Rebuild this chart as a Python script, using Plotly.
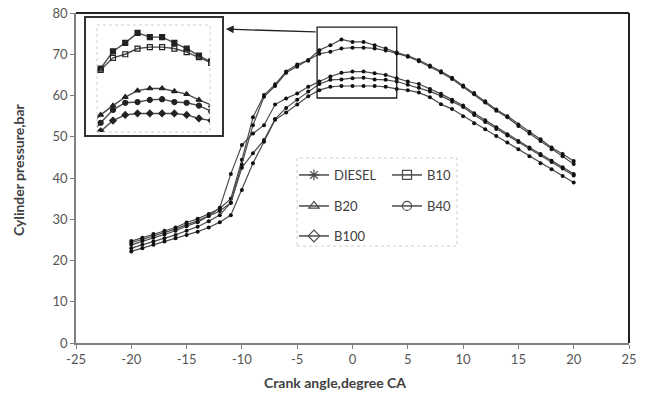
import plotly.graph_objects as go

crank_angle = list(range(-20, 21))
series_names = ["DIESEL", "B10", "B20", "B40", "B100"]
diesel = [24.7, 25.5, 26.4, 27.2, 28.0, 29.2, 30.1, 31.3, 32.6,
          35.0, 44.4, 54.7, 60.1, 62.7, 65.8, 67.5, 68.6, 71.0, 72.2, 73.6,
          73.0, 73.0, 72.2, 71.4, 70.4, 69.6, 68.6, 67.3, 65.9, 64.3, 62.4, 60.6, 58.6, 56.6,
          55.0, 53.0, 51.2, 49.4, 47.4, 45.8, 44.1]
b10 = [24.3, 25.1, 26.0, 26.8, 27.6, 28.7, 29.6, 30.8, 32.0,
       34.0, 43.2, 52.8, 59.7, 62.3, 65.5, 67.0, 68.4, 70.1, 70.6, 71.4,
       71.6, 71.6, 71.4, 70.9, 70.2, 69.4, 68.3, 67.0, 65.6, 64.0, 62.1, 60.3, 58.3, 56.3,
       54.7, 52.6, 50.8, 49.0, 47.0, 45.3, 43.4]
b20 = [23.8, 24.7, 25.5, 26.3, 27.2, 28.3, 29.3, 30.8, 32.8,
       41.0, 48.0, 50.8, 52.8, 57.8, 59.3, 60.5, 62.1, 63.4, 64.6, 65.5,
       65.8, 65.8, 65.4, 65.0, 64.2, 63.4, 62.8, 61.6, 60.4, 59.0, 57.6, 55.7, 54.0, 52.3,
       50.6, 49.0, 47.4, 45.8, 44.2, 42.6, 41.0]
b40 = [23.0, 23.8, 24.6, 25.4, 26.2, 27.2, 28.2, 29.5, 31.0,
       34.0, 42.5, 46.0, 49.2, 54.3, 57.0, 59.0, 61.0, 62.8, 63.8, 63.9,
       64.2, 64.3, 63.9, 63.8, 63.4, 62.6, 61.9, 61.0, 59.9, 58.5, 57.2, 55.3, 53.6, 51.9,
       50.3, 48.7, 47.1, 45.5, 43.9, 42.3, 40.6]
b100 = [22.2, 23.0, 23.8, 24.6, 25.4, 26.2, 27.0, 28.0, 29.3,
        31.0, 37.1, 43.6, 48.8, 54.1, 55.9, 57.8, 59.8, 61.3, 62.1, 62.3,
        62.3, 62.3, 62.3, 62.1, 61.6, 61.3, 60.7, 59.6, 57.9, 56.7, 55.0, 53.3, 51.8, 50.2,
        48.6, 47.0, 45.3, 43.6, 42.1, 40.5, 38.9]
all_series = [diesel, b10, b20, b40, b100]

x_ticks = [-25, -20, -15, -10, -5, 0, 5, 10, 15, 20, 25]
x_tick_labels = ["-25", "-20", "-15", "-10", "-5", "0", "5", "10", "15", "20", "25"]
y_ticks = [0, 10, 20, 30, 40, 50, 60, 70, 80]
x_title = "Crank angle,degree CA"
y_title = "Cylinder pressure,bar"

# zoom window shown in the inset
zoom_x = [-3.2, 4.0]
zoom_y = [59.4, 76.6]

FONT = "Lato, 'Open Sans', sans-serif"
LINE_C = "#4a4a4a"
TXT_C = "#404040"

legend_symbols = ["asterisk-open", "square-open", "triangle-up-open", "circle-open", "diamond-open"]
inset_symbols = ["square", "square-open", "triangle-up", "circle", "diamond"]
legend_ids = ["legend", "legend", "legend2", "legend2", "legend3"]

fig = go.Figure()

for name, ys, isym in zip(series_names, all_series, inset_symbols):
    fig.add_trace(go.Scatter(
        x=crank_angle, y=ys, mode="lines+markers", name=name, showlegend=False,
        line=dict(color=LINE_C, width=1.2),
        marker=dict(symbol="circle", size=4, color="#111111"),
        xaxis="x", yaxis="y"))
    fig.add_trace(go.Scatter(
        x=crank_angle, y=ys, mode="lines+markers", name=name, showlegend=False,
        line=dict(color=LINE_C, width=1.4),
        marker=dict(symbol=isym, size=5, color="#222222", line=dict(color="#222222", width=1.2)),
        xaxis="x2", yaxis="y2"))

for name, sym, lid in zip(series_names, legend_symbols, legend_ids):
    fig.add_trace(go.Scatter(
        x=[None], y=[None], mode="lines+markers", name=name, legend=lid,
        line=dict(color=LINE_C, width=1.5),
        marker=dict(symbol=sym, size=9, color=LINE_C, line=dict(color=LINE_C, width=1.2))))

legend_common = dict(orientation="h", xanchor="left", yanchor="middle",
                     bgcolor="rgba(0,0,0,0)", borderwidth=0,
                     font=dict(family=FONT, size=13, color=TXT_C),
                     entrywidth=48, itemwidth=30)

def px_x(p):
    return (p - 76) / 553.0

def px_y(p):
    return (343 - p) / 330.0

fig.update_layout(
    width=648, height=394,
    margin=dict(l=76, r=19, t=13, b=51, autoexpand=False),
    paper_bgcolor="white", plot_bgcolor="white",
    font=dict(family=FONT, size=13, color=TXT_C),
    xaxis=dict(range=[-25, 25], tickvals=x_ticks, ticktext=x_tick_labels,
               showgrid=False, zeroline=False, automargin=False,
               showline=True, linecolor="#7f7f7f", linewidth=1.5,
               ticks="outside", ticklen=4, tickcolor="#7f7f7f",
               tickfont=dict(family=FONT, size=13, color="#555555")),
    yaxis=dict(range=[0, 80], tickvals=y_ticks, showgrid=False, zeroline=False, automargin=False,
               showline=True, linecolor="#7f7f7f", linewidth=1.5,
               ticks="outside", ticklen=4, tickcolor="#7f7f7f",
               tickfont=dict(family=FONT, size=13, color="#555555")),
    xaxis2=dict(domain=[px_x(97), px_x(210)], range=[-4.3, 4.9], anchor="y2",
                showgrid=False, zeroline=False, showline=False, showticklabels=False, ticks=""),
    yaxis2=dict(domain=[px_y(132), px_y(25)], range=[59.7, 74.7], anchor="x2",
                showgrid=False, zeroline=False, showline=False, showticklabels=False, ticks=""),
    legend=dict(x=px_x(294), y=px_y(175), **legend_common),
    legend2=dict(x=px_x(294), y=px_y(206), **legend_common),
    legend3=dict(x=px_x(294), y=px_y(236), **legend_common),
)

shapes = [
    dict(type="line", xref="x domain", yref="y domain", x0=0, x1=1, y0=1, y1=1,
         line=dict(color="#222222", width=2)),
    dict(type="line", xref="x domain", yref="y domain", x0=1, x1=1, y0=0, y1=1,
         line=dict(color="#222222", width=2)),
    dict(type="rect", xref="x", yref="y", x0=zoom_x[0], x1=zoom_x[1], y0=zoom_y[0], y1=zoom_y[1],
         line=dict(color="#1a1a1a", width=1.3)),
    dict(type="rect", xref="paper", yref="paper", x0=px_x(85), x1=px_x(223), y0=px_y(136), y1=px_y(17),
         line=dict(color="#333333", width=2)),
    dict(type="rect", xref="x2 domain", yref="y2 domain", x0=0, x1=1, y0=0, y1=1,
         line=dict(color="#cfcfcf", width=1, dash="dot")),
    dict(type="rect", xref="paper", yref="paper", x0=px_x(297), x1=px_x(457), y0=px_y(246), y1=px_y(158),
         line=dict(color="#cccccc", width=1, dash="dot")),
]
fig.update_layout(shapes=shapes)

fig.add_annotation(x=-11.45, y=76.1, xref="x", yref="y",
                   ax=zoom_x[0], ay=zoom_y[1] - 1.2, axref="x", ayref="y",
                   text="", showarrow=True, arrowhead=2, arrowsize=1.2, arrowwidth=1.3,
                   arrowcolor="#222222", standoff=0)

# axis titles
fig.add_annotation(x=px_x(335), y=px_y(383), xref="paper", yref="paper",
                   text="<b>" + x_title + "</b>", showarrow=False,
                   xanchor="center", yanchor="middle",
                   font=dict(family=FONT, size=14, color=TXT_C))
fig.add_annotation(x=px_x(19), y=px_y(170), xref="paper", yref="paper",
                   text="<b>" + y_title + "</b>", showarrow=False, textangle=-90,
                   xanchor="center", yanchor="middle",
                   font=dict(family=FONT, size=14, color=TXT_C))

fig.write_html("out.html", config={"displayModeBar": False},
               post_script="document.body.style.margin='0';")
